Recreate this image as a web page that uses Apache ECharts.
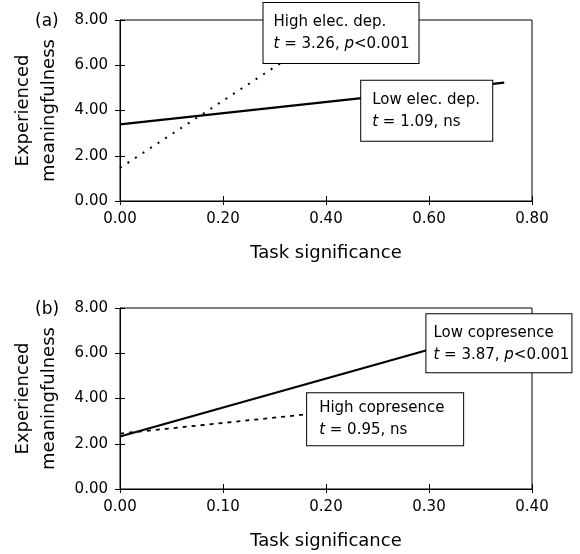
<!DOCTYPE html>
<html>
<head>
<meta charset="utf-8">
<script src="https://cdn.jsdelivr.net/npm/echarts@6/dist/echarts.min.js"></script>
<style>html,body{margin:0;padding:0;background:#fff}#c{width:580px;height:554px}</style>
</head>
<body>
<div id="c"></div>
<script>
// ---- data ----
const panelTags = ['(a)', '(b)'];
const xAxisName = 'Task significance';
const yAxisName = 'Experienced\nmeaningfulness';
const xMaxA = 0.8, xStepA = 0.2;
const xMaxB = 0.4, xStepB = 0.1;
const yMax = 8, yStep = 2;

// panel (a)
const taskSigLowElec = [0, 0.746];
const meanLowElec = [3.39, 5.23];
const taskSigHighElec = [0, 0.44];
const meanHighElec = [1.46, 8.0];
// panel (b)
const taskSigLowCop = [0, 0.36];
const meanLowCop = [2.32, 6.93];
const taskSigHighCop = [0, 0.181];
const meanHighCop = [2.45, 3.30];

// annotation texts and anchors (data coords of box left-middle)
const noteTitles = ['High elec. dep.', 'Low elec. dep.', 'Low copresence', 'High copresence'];
const noteT = ['3.26', '1.09', '3.87', '0.95'];
const noteP = ['<0.001', null, '<0.001', null];
const noteX = [0.2777, 0.4674, 0.297, 0.1812];
const noteY = [7.43, 3.99, 6.44, 3.08];
const notePanel = [0, 0, 1, 1];

// ---- layout / style ----
const FF = 'DejaVu Sans';
const noteBox = [
  {width: 135, padding: [8, 10, 8, 10]},
  {width: 109, padding: [8, 11, 8, 11]},
  {width: 136, padding: [8, 2, 6, 7]},
  {width: 126, padding: [4, 18, 4, 12]}
];

const chart = echarts.init(document.getElementById('c'), null, {renderer: 'canvas'});
const pairs = (xs, ys) => xs.map((x, i) => [x, ys[i]]);

function xAxes(grid, max, step) {
  const base = {gridIndex: grid, type: 'value', position: 'bottom', min: 0, max: max, interval: step, splitLine: {show: false}};
  return [
    Object.assign({}, base, {
      axisLine: {show: true, onZero: false, lineStyle: {color: '#000', width: 1}},
      axisTick: {show: true, inside: true, length: 5, lineStyle: {color: '#000'}},
      axisLabel: {formatter: v => v.toFixed(2), margin: 11, color: '#000', fontSize: 15, fontFamily: FF},
      name: xAxisName, nameLocation: 'middle', nameGap: 42,
      nameTextStyle: {color: '#000', fontSize: 18, fontFamily: FF, lineHeight: 20}
    }),
    Object.assign({}, base, {
      axisLine: {show: false, onZero: false},
      axisTick: {show: true, inside: false, length: 4, lineStyle: {color: '#000'}},
      axisLabel: {show: false}
    })
  ];
}
function yAxes(grid) {
  const base = {gridIndex: grid, type: 'value', position: 'left', min: 0, max: yMax, interval: yStep, splitLine: {show: false}};
  return [
    Object.assign({}, base, {
      axisLine: {show: true, onZero: false, lineStyle: {color: '#000', width: 1}},
      axisTick: {show: true, inside: false, length: 5, lineStyle: {color: '#000'}},
      axisLabel: {formatter: v => v.toFixed(2), margin: 12, color: '#000', fontSize: 15, fontFamily: FF},
      name: yAxisName, nameLocation: 'middle', nameRotate: 90, nameGap: 58,
      nameTextStyle: {color: '#000', fontSize: 18, fontFamily: FF, lineHeight: 26}
    }),
    Object.assign({}, base, {
      axisLine: {show: false, onZero: false},
      axisTick: {show: true, inside: true, length: 5, lineStyle: {color: '#000'}},
      axisLabel: {show: false}
    })
  ];
}

function lineSeries(grid, xs, ys, type, width) {
  return {
    type: 'line', xAxisIndex: grid * 2, yAxisIndex: grid * 2,
    data: pairs(xs, ys), symbol: 'none', silent: true, z: 3,
    lineStyle: {color: '#000', width: width, type: type, cap: 'butt'}
  };
}

function noteSeries(i) {
  const r = {
    n: {fontSize: 15, fontFamily: FF, color: '#000', lineHeight: 22},
    i: {fontSize: 15, fontFamily: FF, color: '#000', lineHeight: 22, fontStyle: 'italic'}
  };
  let txt = '{n|' + noteTitles[i] + '}\n{i|t}{n| = ' + noteT[i] + ', }';
  txt += noteP[i] ? '{i|p}{n|' + noteP[i] + '}' : '{n|ns}';
  const g = notePanel[i];
  return {
    type: 'scatter', xAxisIndex: g * 2, yAxisIndex: g * 2, z: 10, silent: true, clip: false,
    symbolSize: 1, itemStyle: {color: 'rgba(0,0,0,0)', opacity: 1},
    data: [[noteX[i], noteY[i]]],
    label: {
      show: true, position: 'right', distance: 0, formatter: txt, rich: r, color: '#000', opacity: 1,
      align: 'left', width: noteBox[i].width, padding: noteBox[i].padding,
      backgroundColor: '#fff', borderColor: '#000', borderWidth: 1
    }
  };
}

const option = {
  animation: false,
  backgroundColor: '#fff',
  grid: [
    {left: 120, width: 412, top: 20, height: 181, show: true, borderColor: '#000', borderWidth: 1, backgroundColor: 'transparent'},
    {left: 120, width: 412, top: 308, height: 181, show: true, borderColor: '#000', borderWidth: 1, backgroundColor: 'transparent'}
  ],
  xAxis: xAxes(0, xMaxA, xStepA).concat(xAxes(1, xMaxB, xStepB)),
  yAxis: yAxes(0).concat(yAxes(1)),
  graphic: [
    {type: 'text', left: 35, top: 13, style: {text: panelTags[0], fontSize: 17, fontFamily: FF, fill: '#000'}},
    {type: 'text', left: 35, top: 301, style: {text: panelTags[1], fontSize: 17, fontFamily: FF, fill: '#000'}}
  ],
  series: [
    lineSeries(0, taskSigLowElec, meanLowElec, 'solid', 2.2),
    lineSeries(0, taskSigHighElec, meanHighElec, [2, 7], 2),
    lineSeries(1, taskSigLowCop, meanLowCop, 'solid', 2.2),
    lineSeries(1, taskSigHighCop, meanHighCop, [4, 5], 1.8),
    noteSeries(0), noteSeries(1), noteSeries(2), noteSeries(3)
  ]
};
chart.setOption(option);
</script>
</body>
</html>
